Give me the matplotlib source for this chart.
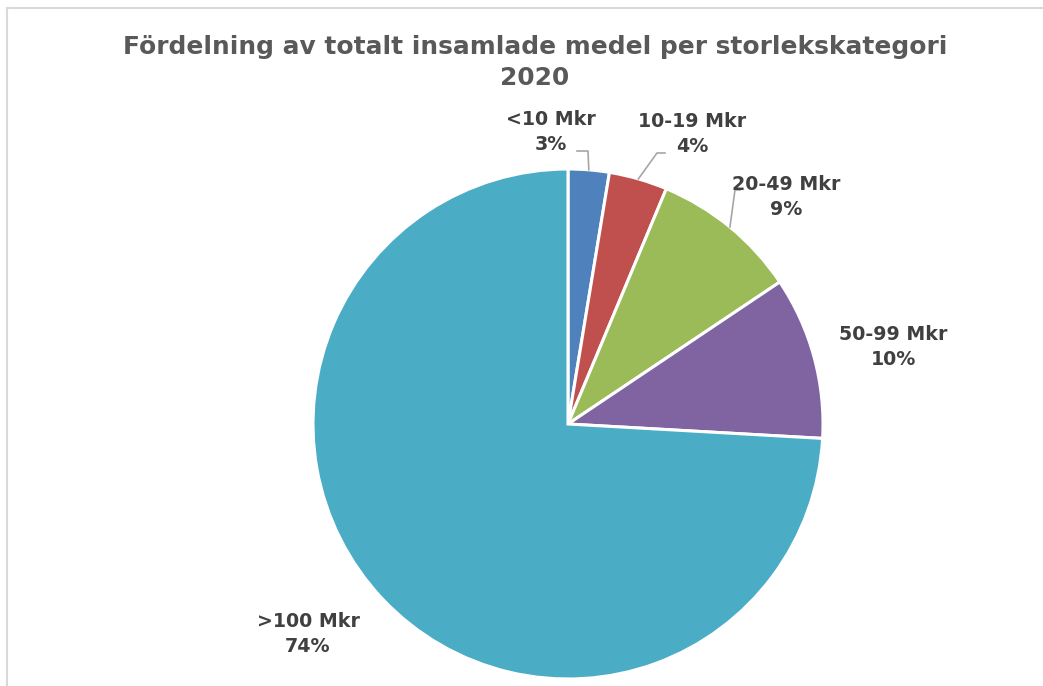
import numpy as np
import matplotlib
matplotlib.use("Agg")
import matplotlib.pyplot as plt
from matplotlib.lines import Line2D

# data
kategorier = ["<10 Mkr", "10-19 Mkr", "20-49 Mkr", "50-99 Mkr", ">100 Mkr"]
andelar = [2.6, 3.7, 9.3, 10.3, 74.1]
procent_etiketter = ["3%", "4%", "9%", "10%", "74%"]
farger = ["#4F81BD", "#C0504D", "#9BBB59", "#8064A2", "#4BACC6"]

W, H = 1043, 686
cx, cy, R = 568, 424, 255  # pie centre / radius in pixels (from top)

fig = plt.figure(figsize=(W / 100, H / 100), dpi=100)
ax = fig.add_axes([0, 0, 1, 1])


def px(x, y):
    """pixel (from top-left) -> data coords with pie radius 1"""
    return (x - cx) / R, (cy - y) / R


ax.pie(andelar, colors=farger, startangle=90, counterclock=False,
       radius=1, center=(0, 0),
       wedgeprops=dict(edgecolor="white", linewidth=2.2))
ax.set_xlim(-cx / R, (W - cx) / R)
ax.set_ylim(-(H - cy) / R, cy / R)
ax.set_aspect("auto")
ax.axis("off")

# label positions (pixels)
etikett_pos = [(551, 132), (692, 134), (786, 197), (893, 347), (308, 634)]
# elbow of leader lines (pixels), None = no leader
armbage = [[(588, 151), (577, 151)],
           [(657, 153), (665, 153)],
           [(735, 190), (740, 190)],
           None, None]

kum = np.cumsum([0] + andelar)
for i, (kat, pct) in enumerate(zip(kategorier, procent_etiketter)):
    x, y = px(*etikett_pos[i])
    ax.text(x, y, f"{kat}\n{pct}", ha="center", va="center",
            fontsize=13.7, fontweight="bold", color="#404040", linespacing=1.45)
    if armbage[i] is not None:
        mitt = (kum[i] + kum[i + 1]) / 2 / 100 * 2 * np.pi
        pts = [(np.sin(mitt), np.cos(mitt))] + [px(*p) for p in armbage[i]]
        xs, ys = zip(*pts)
        ax.plot(xs, ys, color="#A6A6A6", lw=1.2)

fig.text(535 / W, 1 - 47 / H, "Fördelning av totalt insamlade medel per storlekskategori",
         ha="center", va="center", fontsize=17.9, fontweight="bold", color="#595959")
fig.text(535 / W, 1 - 78 / H, "2020",
         ha="center", va="center", fontsize=17.9, fontweight="bold", color="#595959")

# chart frame
fig.add_artist(Line2D([7 / W, 7 / W], [0, 1 - 8 / H], transform=fig.transFigure,
                      color="#D9D9D9", lw=1.5))
fig.add_artist(Line2D([7 / W, 1], [1 - 8 / H, 1 - 8 / H], transform=fig.transFigure,
                      color="#D9D9D9", lw=1.5))

fig.savefig("out.png", dpi=100, facecolor="white")
